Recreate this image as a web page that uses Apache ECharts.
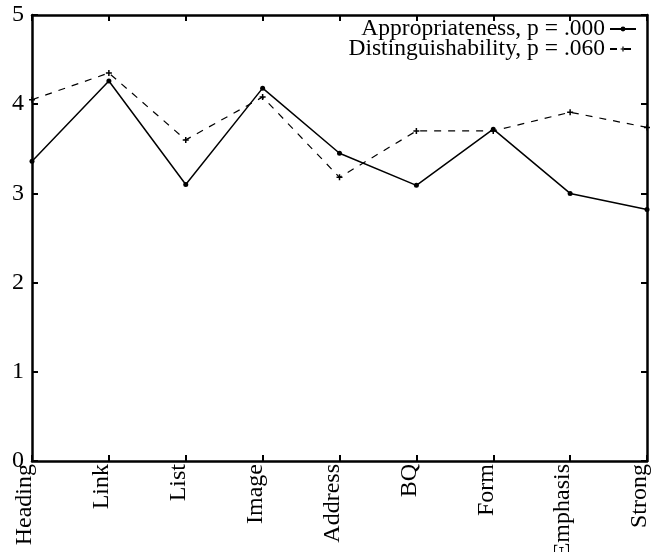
<!DOCTYPE html>
<html>
<head>
<meta charset="utf-8">
<script src="https://cdn.jsdelivr.net/npm/echarts@6/dist/echarts.min.js"></script>
<style>
html,body{margin:0;padding:0;background:#fff;}
#chart{width:657px;height:552px;}
</style>
</head>
<body>
<div id="chart"></div>
<script>
const categories = ['Heading','Link','List','Image','Address','BQ','Form','Emphasis','Strong'];
const appropriateness = [3.36, 4.26, 3.10, 4.18, 3.45, 3.09, 3.72, 3.00, 2.82];
const distinguishability = [4.05, 4.35, 3.60, 4.08, 3.18, 3.70, 3.70, 3.91, 3.74];
const seriesNames = ['Appropriateness, p = .000', 'Distinguishability, p = .060'];
const yTicks = [0, 1, 2, 3, 4, 5];

const FONT = '"Liberation Serif", "Times New Roman", serif';
const plusPath = 'path://M-1,-4H1V-1H4V1H1V4H-1V1H-4V-1H-1Z';

const chart = echarts.init(document.getElementById('chart'), null, {renderer: 'canvas'});
const axisLine = {show: true, onZero: false, lineStyle: {color: '#000', width: 2.5}};
const tick = {show: true, inside: true, length: 6, lineStyle: {color: '#000', width: 2}};

chart.setOption({
  animation: false,
  backgroundColor: '#fff',
  grid: {left: 32, right: 10, top: 15, bottom: 91, containLabel: false, outerBoundsMode: 'none'},
  legend: {
    orient: 'vertical',
    right: 15,
    top: 12,
    align: 'right',
    itemGap: -4,
    itemWidth: 26,
    itemHeight: 6,
    data: seriesNames,
    textStyle: {fontFamily: FONT, fontSize: 23.5, color: '#000', lineHeight: 20}
  },
  xAxis: [{
    type: 'category',
    data: categories,
    boundaryGap: false,
    position: 'bottom',
    axisLine: axisLine,
    axisTick: Object.assign({}, tick, {alignWithLabel: true}),
    splitLine: {show: false},
    axisLabel: {
      rotate: 90, margin: 3, interval: 0,
      fontFamily: FONT, fontSize: 24, color: '#000',
      verticalAlign: 'bottom', lineHeight: 14
    }
  }, {
    type: 'category',
    data: categories,
    boundaryGap: false,
    position: 'top',
    axisLine: axisLine,
    axisTick: tick,
    axisLabel: {show: false},
    splitLine: {show: false}
  }],
  yAxis: [{
    type: 'value',
    min: yTicks[0], max: yTicks[yTicks.length - 1], interval: 1,
    position: 'left',
    axisLine: axisLine,
    axisTick: tick,
    splitLine: {show: false},
    axisLabel: {margin: 8, fontFamily: FONT, fontSize: 24, color: '#000'}
  }, {
    type: 'value',
    min: yTicks[0], max: yTicks[yTicks.length - 1], interval: 1,
    position: 'right',
    axisLine: axisLine,
    axisTick: tick,
    splitLine: {show: false},
    axisLabel: {show: false}
  }],
  series: [{
    name: seriesNames[0],
    type: 'line',
    data: appropriateness,
    xAxisIndex: 0, yAxisIndex: 0,
    symbol: 'circle', symbolSize: 5,
    itemStyle: {color: '#000'},
    lineStyle: {color: '#000', width: 1.5, type: 'solid'}
  }, {
    name: seriesNames[1],
    type: 'line',
    data: distinguishability,
    xAxisIndex: 0, yAxisIndex: 0,
    symbol: plusPath, symbolSize: 6,
    itemStyle: {color: '#000'},
    lineStyle: {color: '#000', width: 1.2, type: [7, 7]}
  }]
});
</script>
</body>
</html>
